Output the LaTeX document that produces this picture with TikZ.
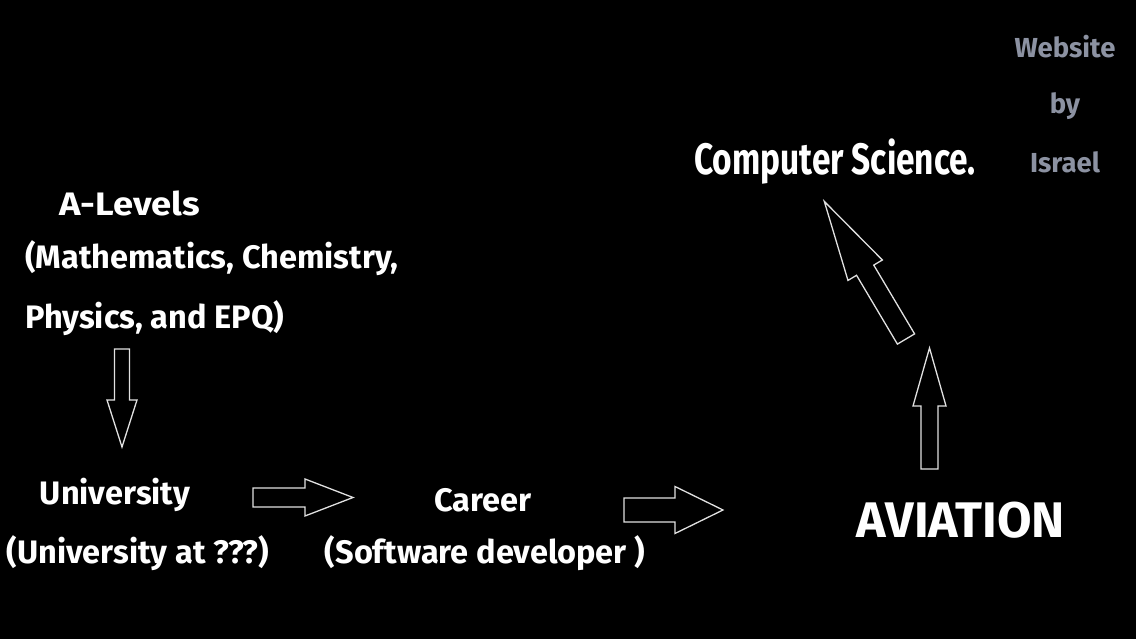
\documentclass[tikz,border=0pt]{standalone}
\usepackage{fontspec}
\setmainfont{Fira Sans}
\definecolor{sig}{RGB}{140,146,162}
\definecolor{edge}{RGB}{225,225,225}
\newcommand\blockarrow[8]{% name, x, y, angle, length, body half width, head half width, head length
  \begin{scope}[shift={(#2,#3)},rotate=#4]
    \coordinate (#1-tail) at (0,0);
    \coordinate (#1-tip) at (#5,0);
    \draw[arrowline] (0,-#6) -- (#5-#8,-#6) -- (#5-#8,-#7) -- (#1-tip) -- (#5-#8,#7) -- (#5-#8,#6) -- (0,#6) -- cycle;
  \end{scope}}
\begin{document}
\begin{tikzpicture}[x=1pt,y=1pt,
  lbl/.style={text=white,inner sep=0pt,font=\fontsize{32.5}{36}\selectfont\bfseries},
  sign/.style={text=sig,inner sep=0pt,font=\fontsize{27.5}{30}\selectfont\bfseries},
  arrowline/.style={draw=edge,line width=1.3pt,fill=black,line join=miter}]
\useasboundingbox (0,0) rectangle (1136,639);
\fill[black] (0,0) rectangle (1136,639);

\node[lbl] (alevels) at (130,436) {\scalebox{1.12}[1]{A-Levels}};
\node[lbl,anchor=west] (subjA) at (25,381) {(Mathematics, Chemistry,};
\node[lbl,anchor=west] (subjB) at (25,321) {Physics, and EPQ)};
\node[lbl] (uni) at (115,144) {University};
\node[lbl] (uniat) at (138,86) {(University at ???)};
\node[lbl] (career) at (483,139) {Career};
\node[lbl] (soft) at (485,86) {(Software developer )};
\node[text=white,inner sep=0pt,font=\fontsize{50}{54}\selectfont\bfseries] (aviation) at (961,119) {AVIATION};
\node[text=white,inner sep=0pt] (cs) at (835,477) {\scalebox{0.76}[1]{\fontsize{44}{48}\selectfont\bfseries Computer Science.}};
\node[sign] (web) at (1065,592) {Website};
\node[sign] (by) at (1065,533) {by};
\node[sign] (isr) at (1065,477) {Israel};

\blockarrow{a1}{122}{290}{-90}{98}{7.5}{15}{47}
\blockarrow{a2}{253}{141.5}{0}{100}{9.5}{18.5}{48}
\blockarrow{a3}{624}{129}{0}{99}{12}{23.5}{48}
\blockarrow{a4}{929.5}{170}{90}{121}{8.5}{16.5}{58}
\blockarrow{a5}{906}{300}{120.7}{160}{10}{20}{80}
\end{tikzpicture}
\end{document}
